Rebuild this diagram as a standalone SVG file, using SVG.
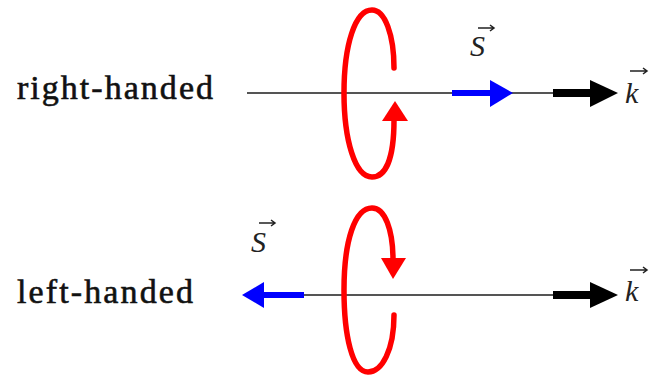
<svg xmlns="http://www.w3.org/2000/svg" width="655" height="379" viewBox="0 0 655 379">
<style>
.lbl{font-family:"Liberation Serif","Times New Roman",Times,serif;font-size:34px;font-weight:normal;fill:#111;stroke:#111;stroke-width:0.6}
.vec{font-family:"Liberation Serif","Times New Roman",Times,serif;font-style:italic;font-size:30px;fill:#222}
.axis{stroke:#555;stroke-width:2;fill:none}
.loop{stroke:#ff0000;stroke-width:5.5;fill:none;stroke-linecap:round}
.red{fill:#ff0000}
.blue{fill:#0000ff}
.blk{fill:#000}
.acc{stroke:#222;stroke-width:1.5;fill:none}
</style>
<rect width="655" height="379" fill="#fff"/>
<g id="right-handed">
<text class="lbl" x="17" y="99" textLength="196" lengthAdjust="spacing">right-handed</text>
</g>
<g id="left-handed">
<text class="lbl" x="17" y="303" textLength="176" lengthAdjust="spacing">left-handed</text>
</g>
<g id="connectors">
<line class="axis" x1="247" y1="93" x2="595" y2="93"/>
<line class="axis" x1="300" y1="295" x2="595" y2="295"/>
<rect class="blue" x="452" y="90" width="40" height="6"/>
<polygon class="blue" points="490,80 513,93 490,107"/>
<rect class="blk" x="553" y="89" width="40" height="8"/>
<polygon class="blk" points="590,80 618,93 590,107"/>
<rect class="blue" x="262" y="292" width="42" height="6"/>
<polygon class="blue" points="264,282 242,295 264,308"/>
<rect class="blk" x="553" y="291" width="40" height="8"/>
<polygon class="blk" points="590,282 618,295 590,308"/>
</g>
<g id="loop-top">
<path class="loop" d="M394,120 C394,160 385,177 372,177 C355,177 344,140 344,93 C344,45 355,10 372,10 C385,10 394,35 394,68"/>
<polygon class="red" points="395,101 382,121 408,121"/>
</g>
<g id="loop-bottom">
<path class="loop" d="M394,315 C394,350 382,372 368,372 C352,372 344,335 344,290 C344,240 355,208 372,208 C385,208 393,230 393,260"/>
<polygon class="red" points="393,279 381,258 406,258"/>
</g>
<g id="S-top">
<text class="vec" x="470" y="56">S</text>
<path class="acc" d="M478,28 L494,28 M490,25 L494,28 L490,31"/>
</g>
<g id="k-top">
<text class="vec" x="625" y="103">k</text>
<path class="acc" d="M630,71 L647,71 M643,68 L647,71 L643,74"/>
</g>
<g id="S-bottom">
<text class="vec" x="251" y="252">S</text>
<path class="acc" d="M259,223 L275,223 M271,220 L275,223 L271,226"/>
</g>
<g id="k-bottom">
<text class="vec" x="625" y="301">k</text>
<path class="acc" d="M630,270 L647,270 M643,267 L647,270 L643,273"/>
</g>
</svg>
